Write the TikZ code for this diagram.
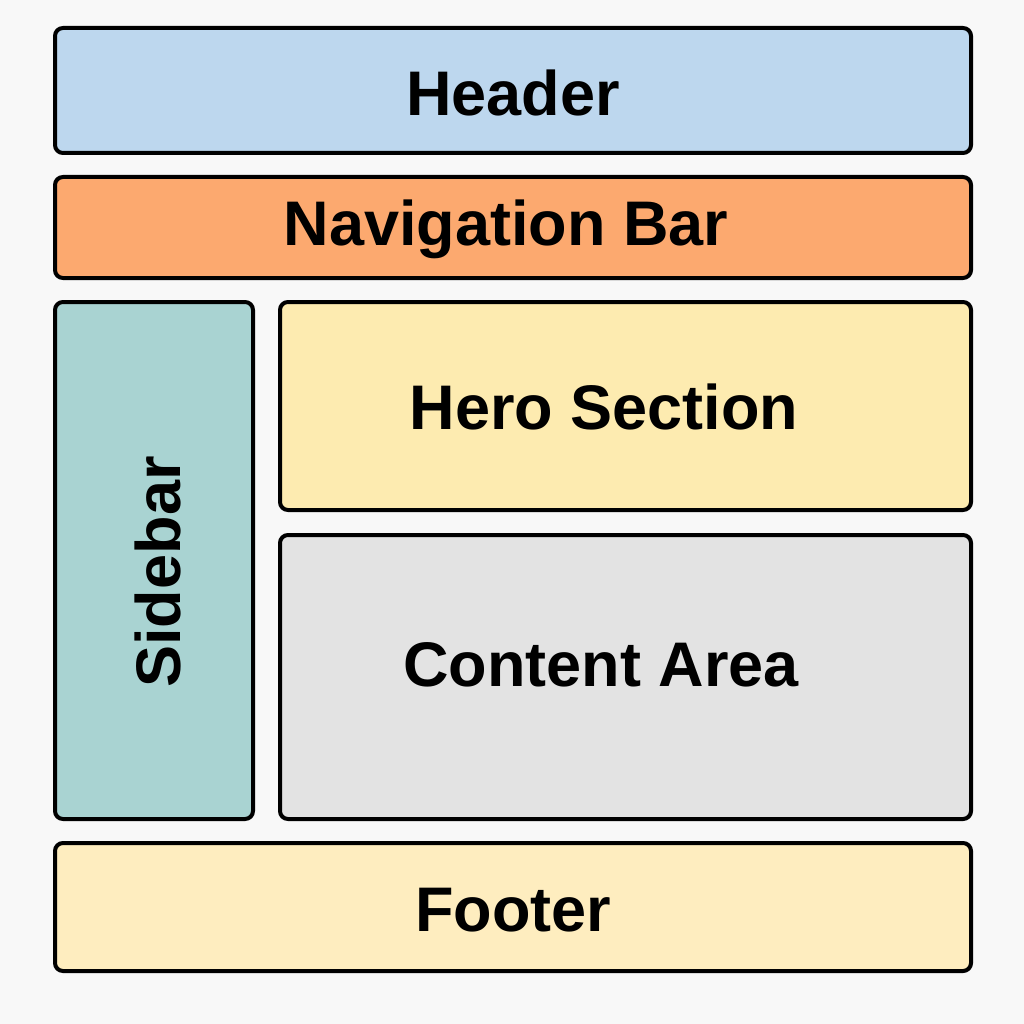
\documentclass[tikz,border=0pt]{standalone}
\usepackage{fontspec}
\setmainfont{Liberation Sans}
\definecolor{bg}{HTML}{F8F8F8}
\definecolor{hdr}{HTML}{BDD7EE}
\definecolor{nav}{HTML}{FCA96F}
\definecolor{side}{HTML}{A9D3D2}
\definecolor{hero}{HTML}{FDEBB0}
\definecolor{cont}{HTML}{E3E3E3}
\definecolor{foot}{HTML}{FEEDBF}
\begin{document}
\begin{tikzpicture}[x=1pt,y=-1pt,
  panel/.style={draw=black,line width=4pt,rounded corners=8pt},
  lbl/.style={font=\fontsize{63}{70}\selectfont\bfseries,inner sep=0pt,anchor=center}]
\fill[bg] (0,0) rectangle (1024,1024);
\useasboundingbox (0,0) rectangle (1024,1024);
\draw[panel,fill=hdr] (55,28) rectangle (971,153);
\draw[panel,fill=nav] (55,177) rectangle (971,278);
\draw[panel,fill=side] (55,302) rectangle (253,819);
\draw[panel,fill=hero] (280,302) rectangle (971,510);
\draw[panel,fill=cont] (280,535) rectangle (971,819);
\draw[panel,fill=foot] (55,843) rectangle (971,971);
\node[lbl] (header) at (513,93) {Header};
\node[lbl] (nav) at (506,229) {Navigation Bar};
\node[lbl] (hero) at (604,407) {Hero Section};
\node[lbl] (content) at (601,665) {Content Area};
\node[lbl] (footer) at (513,910) {Footer};
\node[lbl,rotate=90] (sidebar) at (158,572) {Sidebar};
\end{tikzpicture}
\end{document}
